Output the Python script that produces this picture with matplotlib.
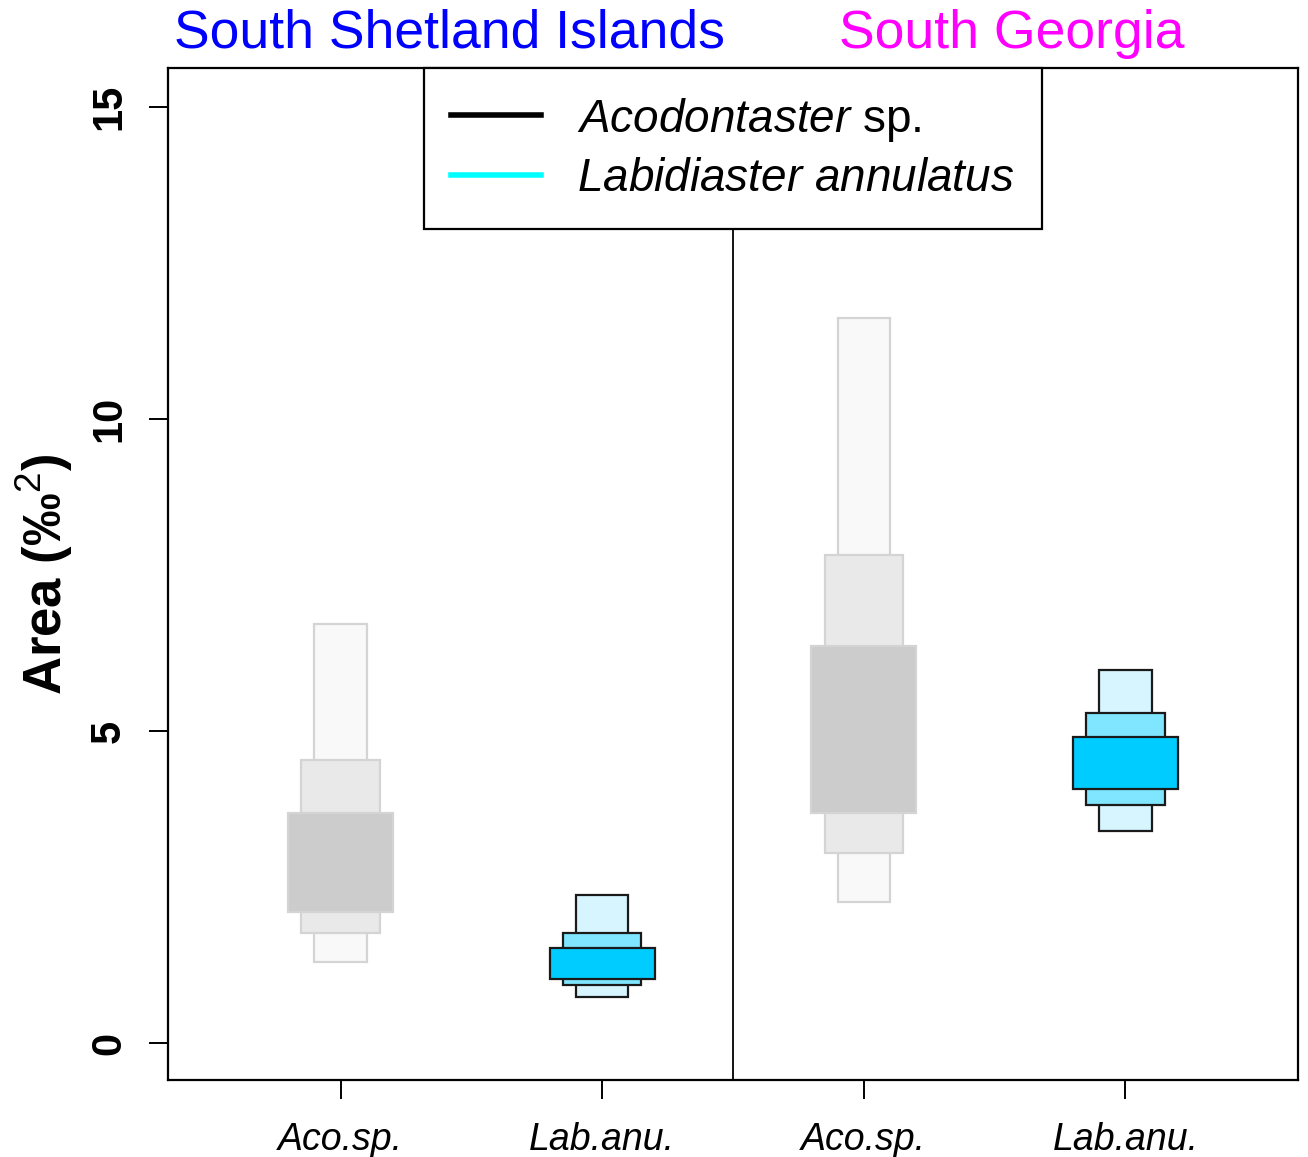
import matplotlib.pyplot as plt
from matplotlib.lines import Line2D

plt.rcParams['font.family'] = ['Liberation Sans', 'DejaVu Sans']
plt.rcParams['mathtext.fontset'] = 'custom'
plt.rcParams['mathtext.it'] = 'Liberation Sans:italic'
plt.rcParams['mathtext.rm'] = 'Liberation Sans'
plt.rcParams['mathtext.bf'] = 'Liberation Sans:bold'

# groups along the x axis (two sites, two species each)
group_labels = ['Aco.sp.', 'Lab.anu.', 'Aco.sp.', 'Lab.anu.']
group_species = ['aco', 'lab', 'aco', 'lab']
sites = ['South Shetland Islands', 'South Georgia']
site_colors = ['#0000ff', '#ff00ff']

# credible intervals of standard ellipse area (95%, 75%, 50%): (low, high)
ci95 = [(1.30, 6.71), (0.74, 2.37), (2.26, 11.62), (3.39, 5.97)]
ci75 = [(1.77, 4.54), (0.93, 1.77), (3.05, 7.82), (3.82, 5.29)]
ci50 = [(2.10, 3.68), (1.03, 1.53), (3.69, 6.36), (4.07, 4.91)]

levels = [ci95, ci75, ci50]
widths = [0.2, 0.3, 0.4]
fills = {'aco': ['#f9f9f9', '#e9e9e9', '#cccccc'],
         'lab': ['#d6f5ff', '#80e6ff', '#00ccff']}
edges = {'aco': '#d4d4d4', 'lab': '#1a1a1a'}

fig = plt.figure(figsize=(13.08, 11.57), dpi=100)
ax = fig.add_axes([0.1284, 0.0666, 0.8640, 0.8746])

xpos = [1, 2, 3, 4]
for ci, w, k in zip(levels, widths, range(3)):
    for x, sp, (lo, hi) in zip(xpos, group_species, ci):
        ax.bar(x, hi - lo, bottom=lo, width=w, color=fills[sp][k],
               edgecolor=edges[sp], linewidth=1.6, zorder=2 + k)

# divider between the two sites
ax.axvline(2.5, color='black', linewidth=1.3, zorder=1)

ax.set_xlim(0.34, 4.66)
ax.set_ylim(-0.59, 15.62)
ax.set_xticks(xpos)
ax.set_xticklabels(group_labels, fontsize=27, fontstyle='italic')
ax.set_yticks([0, 5, 10, 15])
ax.set_yticklabels(['0', '5', '10', '15'], fontsize=30, fontweight='heavy',
                   rotation=90, va='center')
ax.tick_params(axis='both', length=14, width=1.4)
ax.tick_params(axis='x', pad=16)
ax.tick_params(axis='y', pad=14)
for s in ax.spines.values():
    s.set_linewidth(1.6)

ax.set_ylabel('Area (‰$^{2}$)', fontsize=38, fontweight='bold', labelpad=10)

# site titles
fig.text(449 / 1308, 1 - 34 / 1157, sites[0], color=site_colors[0],
         fontsize=38.5, ha='center', va='center')
fig.text(1012 / 1308, 1 - 34 / 1157, sites[1], color=site_colors[1],
         fontsize=38.5, ha='center', va='center')

handles = [Line2D([], [], color='black', linewidth=4),
           Line2D([], [], color='#00ffff', linewidth=4)]
labels = [r'$\mathit{Acodontaster}$ sp.', r'$\mathit{Labidiaster\ annulatus}$']
leg = ax.legend(handles, labels, loc='upper center', bbox_to_anchor=(0.5, 1.0),
                borderaxespad=0, fontsize=33, handlelength=1.95,
                handletextpad=0.8, borderpad=0.6, labelspacing=0.3,
                fancybox=False, framealpha=1, edgecolor='black')
leg.get_frame().set_linewidth(1.6)
leg.set_zorder(10)

fig.savefig('out.png', dpi=100)
